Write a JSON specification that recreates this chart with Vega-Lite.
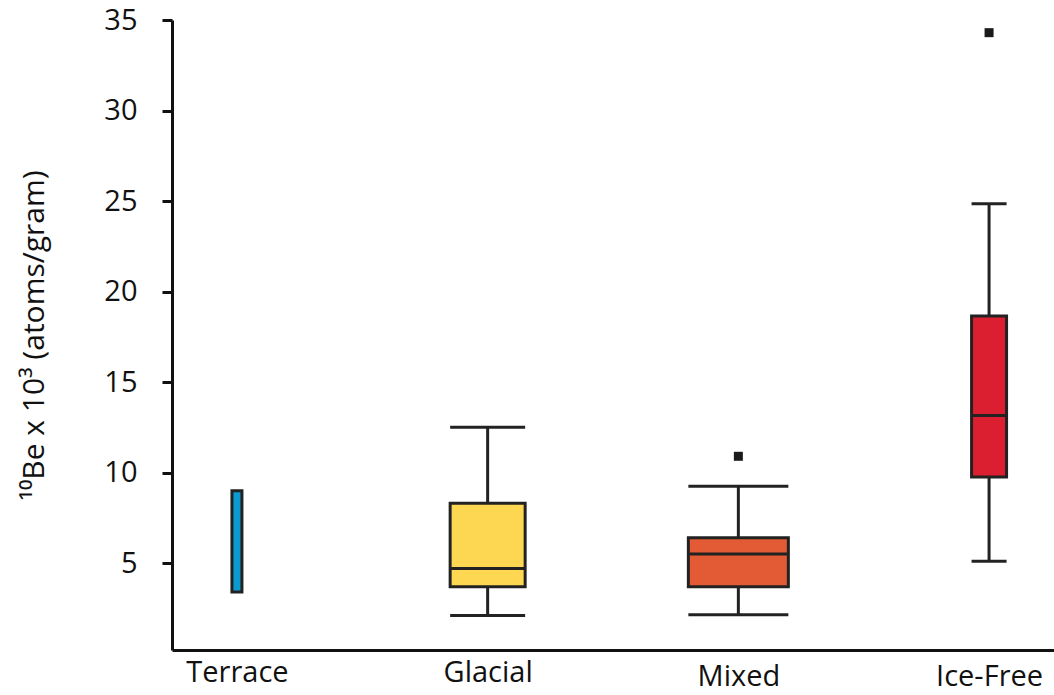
{
  "$schema": "https://vega.github.io/schema/vega-lite/v6.json",
  "autosize": "none",
  "padding": {"left": 172, "top": 20, "right": 0, "bottom": 45},
  "width": 882,
  "height": 630,
  "background": "white",
  "config": {
    "view": {"stroke": null},
    "font": "Open Sans",
    "axis": {"grid": false, "domainColor": "#111111", "domainWidth": 3, "tickColor": "#111111", "labelColor": "#111111", "titleColor": "#111111", "labelFont": "Open Sans", "titleFont": "Open Sans"}
  },
  "datasets": {
    "boxes": [
      {"group": "Terrace", "n": 2, "lower": null, "q1": 3.4, "median": null, "q3": 9.0, "upper": null},
      {"group": "Glacial", "n": 15, "lower": 2.1, "q1": 3.7, "median": 4.7, "q3": 8.3, "upper": 12.5},
      {"group": "Mixed", "n": 20, "lower": 2.15, "q1": 3.7, "median": 5.5, "q3": 6.4, "upper": 9.25},
      {"group": "Ice-Free", "n": 7, "lower": 5.1, "q1": 9.75, "median": 13.15, "q3": 18.65, "upper": 24.85}
    ],
    "outliers": [
      {"group": "Mixed", "value": 10.9},
      {"group": "Ice-Free", "value": 34.3}
    ]
  },
  "encoding": {
    "x": {
      "field": "group", "type": "nominal",
      "sort": ["Terrace", "Glacial", "Mixed", "Ice-Free"],
      "scale": {"type": "point", "padding": 0.259},
      "axis": {"title": null, "labelAngle": 0, "ticks": false, "labelPadding": {"expr": "datum.value == 'Mixed' || datum.value == 'Ice-Free' ? 12 : 8"}, "labelFontSize": 29, "labelBaseline": "top"}
    }
  },
  "layer": [
    {
      "data": {"name": "boxes"},
      "mark": {"type": "rule", "color": "#222222", "strokeWidth": 3},
      "encoding": {
        "y": {
          "field": "lower", "type": "quantitative",
          "scale": {"domain": [0.2, 35], "nice": false, "zero": false},
          "axis": {
            "values": [5, 10, 15, 20, 25, 30, 35],
            "tickSize": 10, "tickWidth": 3, "labelPadding": 25, "labelFontSize": 29,
            "title": "¹⁰Be x 10³ (atoms/gram)", "titleFontSize": 30, "titleFontWeight": "normal",
            "titleX": -129, "titleBaseline": "alphabetic"
          }
        },
        "y2": {"field": "upper"}
      }
    },
    {
      "data": {"name": "boxes"},
      "mark": {"type": "bar", "stroke": "#222222", "strokeWidth": 3},
      "encoding": {
        "y": {"field": "q1", "type": "quantitative"},
        "y2": {"field": "q3"},
        "size": {"field": "n", "type": "quantitative", "scale": {"domain": [0, 20], "range": [0, 100], "zero": true}, "legend": null},
        "color": {"field": "group", "type": "nominal", "scale": {"domain": ["Terrace", "Glacial", "Mixed", "Ice-Free"], "range": ["#0b9bd0", "#fdd752", "#e35b35", "#dc1f30"]}, "legend": null}
      }
    },
    {
      "data": {"name": "boxes"},
      "mark": {"type": "tick", "color": "#222222", "thickness": 3, "opacity": 1},
      "encoding": {
        "y": {"field": "median", "type": "quantitative"},
        "size": {"field": "n", "type": "quantitative", "legend": null}
      }
    },
    {
      "data": {"name": "boxes"},
      "mark": {"type": "tick", "color": "#222222", "thickness": 3, "opacity": 1},
      "encoding": {
        "y": {"field": "lower", "type": "quantitative"},
        "size": {"field": "n", "type": "quantitative", "legend": null}
      }
    },
    {
      "data": {"name": "boxes"},
      "mark": {"type": "tick", "color": "#222222", "thickness": 3, "opacity": 1},
      "encoding": {
        "y": {"field": "upper", "type": "quantitative"},
        "size": {"field": "n", "type": "quantitative", "legend": null}
      }
    },
    {
      "data": {"name": "outliers"},
      "mark": {"type": "square", "color": "#1a1a1a", "filled": true, "size": 81, "opacity": 1},
      "encoding": {
        "y": {"field": "value", "type": "quantitative"}
      }
    }
  ]
}
